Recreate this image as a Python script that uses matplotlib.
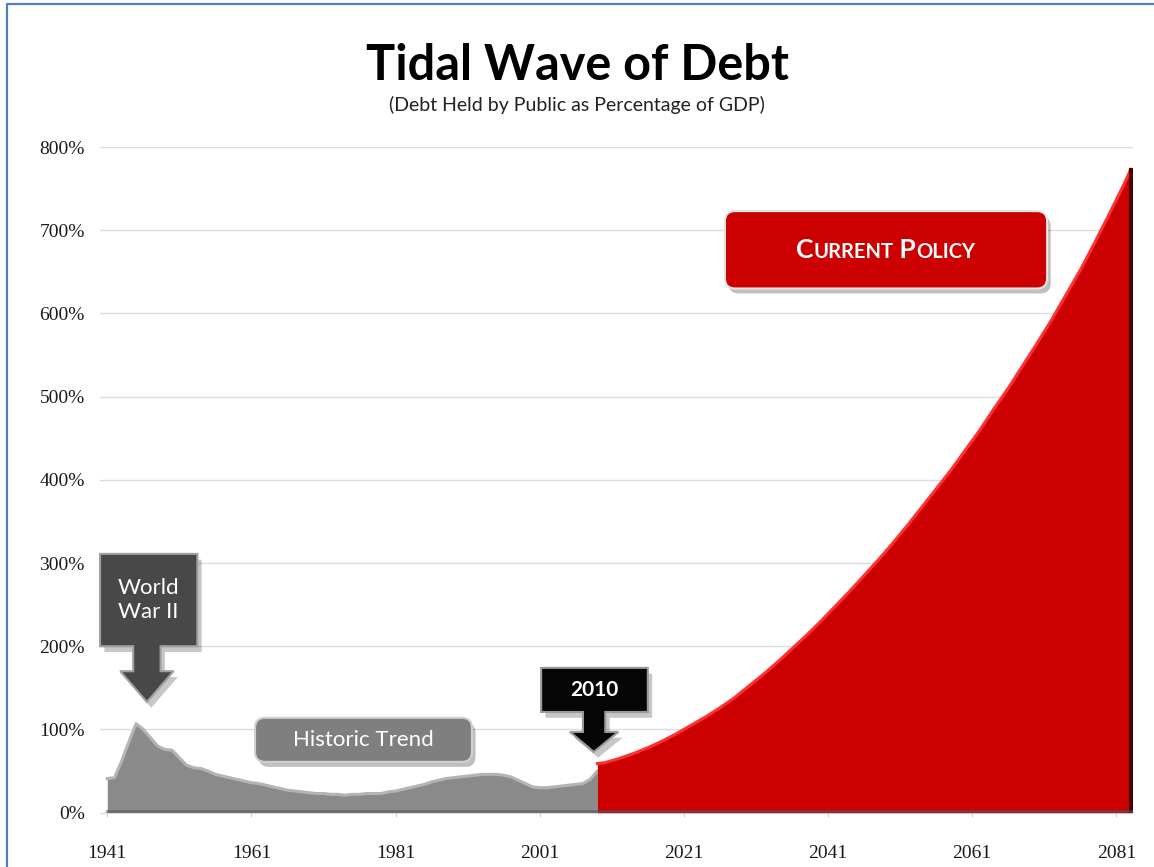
import matplotlib.pyplot as plt
from matplotlib.patches import FancyBboxPatch, Polygon
from matplotlib.lines import Line2D
from matplotlib.offsetbox import TextArea, HPacker, AnnotationBbox

# debt held by public, % of GDP
hist_years = list(range(1941, 2010))
hist_debt = [41, 42, 62, 85, 107, 100, 90, 80, 76, 75, 66, 57, 54, 53, 50, 46, 44, 42, 40, 38,
             36, 35, 33, 31, 29, 27, 26, 25, 24, 23, 23, 22, 22, 21, 22, 22, 23, 23, 23, 25,
             26, 28, 30, 32, 34, 37, 39, 41, 42, 43, 44, 45, 46, 46, 46, 45, 43, 39, 35, 31,
             30, 30, 31, 32, 33, 34, 35, 40, 50]

proj_years = [2009, 2010, 2012, 2014, 2016, 2018, 2020, 2022, 2024, 2026, 2028, 2030, 2032,
              2034, 2036, 2038, 2040, 2042, 2044, 2046, 2048, 2050, 2052, 2054, 2056, 2058,
              2060, 2062, 2064, 2066, 2068, 2070, 2072, 2074, 2076, 2078, 2080, 2082, 2083]
proj_debt = [59, 60, 65, 71, 78, 86, 95, 105, 115, 126, 138, 152, 166,
             181, 197, 213, 230, 248, 266, 285, 304, 324, 345, 367, 389, 411,
             435, 459, 485, 510, 537, 564, 592, 622, 652, 685, 719, 754, 773]

tick_years = [1941, 1961, 1981, 2001, 2021, 2041, 2061, 2081]
y_ticks = [0, 100, 200, 300, 400, 500, 600, 700, 800]

SANS = 'Lato'
SERIF = 'Liberation Serif'

fig = plt.figure(figsize=(11.54, 8.67), dpi=100)
ax = fig.add_axes([0.0867, 0.0627, 0.895, 0.7677])

# areas
ax.fill_between(hist_years, hist_debt, color='#8a8a8a', lw=0, zorder=2)
ax.plot(hist_years, hist_debt, color='#b4b4b4', lw=2.2, zorder=3)
ax.fill_between(proj_years, proj_debt, color='#cc0000', lw=0, zorder=4)
ax.plot(proj_years, proj_debt, color='#ff3030', lw=2.2, zorder=5)
ax.plot([proj_years[-1], proj_years[-1]], [0, proj_debt[-1]], color='#4a0000', lw=3, zorder=5)
ax.plot([hist_years[0], proj_years[-1]], [1.5, 1.5], color='#555555', lw=2, alpha=0.6, zorder=5)

ax.set_xlim(1940, 2083.3)
ax.set_ylim(0, 800)
ax.set_xticks(tick_years)
ax.set_xticklabels([str(t) for t in tick_years], fontfamily=SERIF, fontsize=14, color='#1a1a1a')
ax.set_yticks(y_ticks)
ax.set_yticklabels([f'{v}%' for v in y_ticks], fontfamily=SERIF, fontsize=14, color='#1a1a1a')
ax.tick_params(axis='x', length=3, color='#d0d0d0', pad=20)
ax.tick_params(axis='y', length=0, pad=11)
ax.yaxis.grid(True, color='#dcdcdc', lw=1)
ax.set_axisbelow(True)
for s in ['top', 'right', 'left']:
    ax.spines[s].set_visible(False)
ax.spines['bottom'].set_color('#d9d9d9')

ASPECT = 8.67  # y data units per x data unit on screen


def shadowed_box(x0, x1, y0, y1, face, edge, r=1.4):
    sh = FancyBboxPatch((x0 + 0.5, y0 - 6), x1 - x0, y1 - y0,
                        boxstyle=f'round,pad=0,rounding_size={r}', mutation_aspect=ASPECT,
                        fc='#000000', ec='none', alpha=0.25, zorder=8, clip_on=False)
    bx = FancyBboxPatch((x0, y0), x1 - x0, y1 - y0,
                        boxstyle=f'round,pad=0,rounding_size={r}', mutation_aspect=ASPECT,
                        fc=face, ec=edge, lw=1.5, zorder=9, clip_on=False)
    ax.add_patch(sh)
    ax.add_patch(bx)


def callout(x0, x1, y0, y1, sx0, sx1, hx0, hx1, sy, tx, ty, face, edge):
    pts = [(x0, y1), (x1, y1), (x1, y0), (sx1, y0), (sx1, sy), (hx1, sy), (tx, ty),
           (hx0, sy), (sx0, sy), (sx0, y0), (x0, y0)]
    shadow = [(px + 0.6, py - 7) for px, py in pts]
    ax.add_patch(Polygon(shadow, closed=True, fc='#000000', ec='none', alpha=0.22,
                         zorder=8, clip_on=False))
    ax.add_patch(Polygon(pts, closed=True, fc=face, ec=edge, lw=1.5, zorder=9, clip_on=False))


# World War II callout
callout(1940.0, 1953.5, 200, 311, 1944.6, 1948.4, 1942.8, 1950.2, 170, 1946.5, 133,
        '#484848', '#a0a0a0')
ax.text(1946.7, 255, 'World\nWar II', ha='center', va='center', color='white',
        fontfamily=SANS, fontsize=16, linespacing=1.25, zorder=10)

# 2010 callout
callout(2001.2, 2016.0, 121, 174, 2007.0, 2010.1, 2005.2, 2011.9, 97, 2008.5, 73,
        '#050505', '#9a9a9a')
ax.text(2008.6, 148, '2010', ha='center', va='center', color='white',
        fontfamily=SANS, fontsize=15, fontweight='bold', zorder=10)

# Historic Trend label
shadowed_box(1961.5, 1991.6, 61, 114, '#7f7f7f', '#d0d0d0')
ax.text(1976.6, 87, 'Historic Trend', ha='center', va='center', color='white',
        fontfamily=SANS, fontsize=16, zorder=10)

# Current Policy label (small caps)
shadowed_box(2026.7, 2071.4, 630, 723, '#cc0000', '#e6e6e6')
big = dict(color='white', fontfamily=SANS, fontsize=19, fontweight='bold')
small = dict(color='white', fontfamily=SANS, fontsize=14.5, fontweight='bold')
parts = [TextArea('C', textprops=big), TextArea('URRENT', textprops=small),
         TextArea(' P', textprops=big), TextArea('OLICY', textprops=small)]
pack = HPacker(children=parts, align='baseline', pad=0, sep=0)
ab = AnnotationBbox(pack, (2049.0, 676), frameon=False, box_alignment=(0.5, 0.5), zorder=10)
ax.add_artist(ab)

# titles
fig.text(0.5, 0.925, 'Tidal Wave of Debt', ha='center', va='center',
         fontfamily=SANS, fontsize=35, fontweight='bold', color='black')
fig.text(0.5, 0.879, '(Debt Held by Public as Percentage of GDP)', ha='center', va='center',
         fontfamily=SANS, fontsize=14, color='#222222')

# slide border (left and top)
fig.add_artist(Line2D([7 / 1154, 7 / 1154, 1.0], [0.0, 1 - 4 / 867, 1 - 4 / 867],
                      transform=fig.transFigure, color='#4f81bd', lw=1.6))

plt.savefig('out.png', dpi=100)
